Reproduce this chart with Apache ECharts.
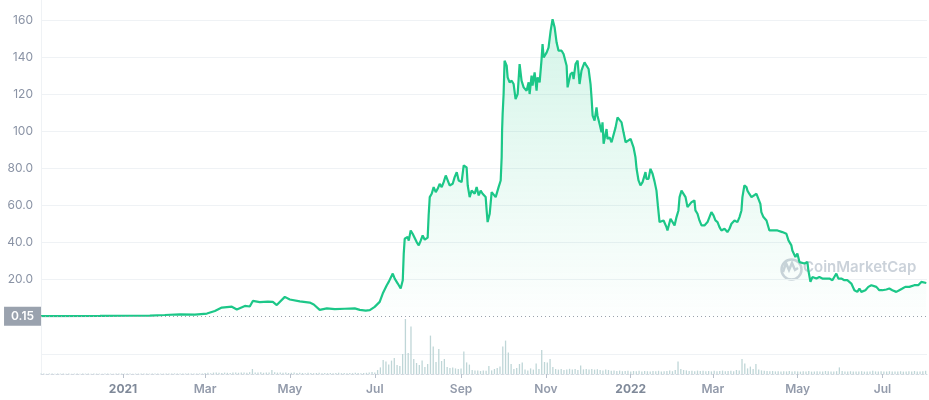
<!DOCTYPE html>
<html><head><meta charset="utf-8">
<script src="https://cdn.jsdelivr.net/npm/echarts@6/dist/echarts.min.js"></script>
<style>html,body{margin:0;padding:0;background:#fff}#c{width:929px;height:400px}</style>
</head><body><div id="c"></div>
<script>
// Days counted from 2020-11-03
const startDate = '2020-11-03';
const priceDays = [0,13.6,42.4,63.9,78.3,89,99.9,110.6,119.3,125,130,137.2,140.8,146.6,150.1,152.3,157.3,163.1,166.7,169.5,175.3,178.9,186.1,193.2,196.1,200.4,205.5,211.2,218.4,225.6,229.2,233.5,236.4,239.9,243.5,245.7,248.6,250,251.4,252.9,254.3,256.5,258.6,260.1,260.8,261.5,263.6,264.4,265.8,267.2,270.1,271.6,273,274.4,275.9,278,278.7,279.5,280.9,282.3,283.8,285.2,286.6,288.1,289.5,291,291.7,293.8,296,297.4,298.9,300.3,302.4,303.9,306,306.8,308.2,309.6,311.8,313.2,314.7,316.1,317.5,319.7,320.4,321.1,322.6,324,324.7,326.9,328.3,329,330.5,331.2,331.5,331.9,332.6,333.3,334.8,335.5,336.9,338.4,339.8,341.2,342.7,344.1,345.5,347,349.1,350.6,351.3,352.7,353.4,354.9,356.3,357,358.5,359.9,360.6,361.4,363.5,364.9,366.4,367.8,369.3,370.7,372.1,374.3,375.7,377.9,378.6,380.7,382.2,382.9,384.3,385.8,387.2,388.6,389.4,390.8,392.2,393.7,395.1,395.8,396.6,398,399.4,400.1,401.6,403,403.7,404.5,406.6,407.3,408.8,410.2,411.6,413.1,414.5,415.9,417.4,418.8,420.3,421.7,423.9,425.3,426,427.4,428.2,429.6,431,432.5,434.6,435.3,436.8,438.2,439.7,441.1,442.5,443.5,444.7,446.1,447.6,449.7,450.4,452.6,454,455.5,456.9,458.3,459.1,460.5,461.9,463.4,464.8,466.2,467.7,468.4,469.8,470.5,472,473.4,474.9,475.6,477,479.2,480.6,482,483.5,484.9,486.4,487.8,489.2,491.4,493.5,495,496.4,498.6,500.7,502.2,503.6,504.3,505.7,507.2,507.9,509.3,510.8,512.2,514.4,515.8,517.2,517.9,519.4,521.6,522.3,523.7,525.1,527.3,529.5,530.9,533,535.9,537.4,539.5,540.2,542.4,543.8,545.3,546.7,548.9,551,551.7,553.2,554.6,557.5,559.6,561.8,564.7,566.8,569,571.8,573.3,575.4,577.6,579.7,582.6,584.8,586.9,588.4,589.8,592.7,594.8,597,598.4,600.6,602.7,604.9,607.8,609.9,612.1,614.9,617.1,619.3,621.4,622.8,624.3,625.7,627.9,629.3,630.7,632.9,634.3,636.5];
const prices = [0.15,0.2,0.3,0.4,0.5,0.8,1.2,1.0,1.6,3.0,4.8,5.3,3.8,5.7,5.4,8.4,7.8,8.0,7.9,6.2,10.6,9.2,8.2,7.5,6.5,3.6,4.4,4.0,4.2,4.4,3.6,3.2,3.4,5.2,7.9,12.4,16.9,18.7,17.8,23.2,20.5,17.8,15.1,19.6,34,42,43,41,46.5,44.7,40.2,38.4,41,43.8,41.5,42.6,54.6,64.5,66.3,69.9,67.2,69,71.7,69.9,72.6,76.2,77.1,70.8,71.7,75.3,78,73.5,72.6,81.6,80.6,70.8,64.5,68,66.3,69.9,65.4,68,66.3,64.5,57.3,51,55.5,67.2,68,64.5,65.4,69.9,73.5,86,100.4,109.4,120.2,138.2,135.5,129.2,126.5,127.4,125.6,117.5,120.2,136.4,127.4,123.8,122,126.5,120.2,130.1,124.7,131.9,122,129.2,126.5,139.1,147.2,140,142.6,145.3,154.3,160.6,156.1,148,143.6,143.6,141.8,135.5,123.8,131,131.9,128.3,136.4,138.2,125.6,132.8,134.6,137.3,135.5,133.7,125.6,118.4,108.5,105.8,113,108.5,104,99.5,104.9,93.3,101.3,96,96.8,94.1,95,102.2,107.6,108.5,104.9,99.5,94.1,95,96,95,91.4,86,79.8,73.5,70.8,72.6,78,74.4,74.4,79.8,77.1,73,68,60,51,50.1,51.9,48.3,46.5,52.8,51.9,49.2,53.7,57.3,64.5,68,67.2,64.5,59.1,59.1,61.8,62.7,62.7,57.3,55.5,51.9,49.2,50.1,49.2,51,50.1,56.4,54.6,51.9,51,48.3,46.5,47.4,45.6,47.4,50.1,51.9,51,53.7,57.3,64.5,70.8,69.9,68,66.2,64.5,65.4,66.3,65.4,60.9,56.4,53.7,51.9,51,46.5,47.4,46.5,46.5,45.6,45.6,44.7,41.1,38.4,35.7,32.1,34,29.4,30.3,28.6,29.4,25,18.7,21.3,20.5,21.3,20.5,20.5,20.5,19.6,23.2,20.5,20.5,19.6,19.6,17.8,14.2,13.3,15.1,13.3,14.2,16,16.9,17.8,16,14.2,14.2,14.6,15.1,14.2,13.3,14.2,15.1,16,16.9,16,16.9,16.9,17.8,16.9,18.7,17.8,18.1];
const volumeStepDays = 2;
const volumes = [2,2,1,2,2,1,2,2,2,1,2,1,2,2,1,2,2,2,1,2,2,2,1,2,2,2,1,2,2,2,
2,2,2,1,2,2,3,2,2,2,2,3,2,2,2,3,2,2,3,2,3,2,3,3,2,3,3,3,2,
5,6,4,7,8,6,5,7,6,5,8,7,6,8,7,6,9,
25,8,7,9,6,8,7,20,
9,7,8,6,7,5,6,7,5,6,5,4,6,5,4,5,6,4,5,4,5,4,5,6,4,5,4,5,4,6,5,4,5,6,8,
10,8,20,33,70,62,47,67,80,45,40,100,275,105,237,75,55,45,68,35,50,192,137,60,125,65,75,35,30,32,28,25,28,112,58,47,20,18,17,15,18,16,40,18,25,30,37,137,167,108,50,25,30,50,58,22,18,28,22,53,25,120,60,57,75,35,25,
22,25,20,23,26,22,25,20,42,23,25,22,
25,22,24,20,18,22,20,16,18,15,17,14,15,16,13,15,14,16,13,15,14,13,15,14,16,13,14,15,17,14,
20,62,25,20,
18,15,16,14,17,15,16,14,15,13,16,14,15,17,14,15,16,14,20,18,
75,53,28,37,25,50,22,
18,16,15,14,15,13,14,12,14,13,15,12,14,13,12,14,13,15,12,13,14,12,13,15,14,13,12,14,33,15,13,12,14,13,12,13,14,12,13,12,16,13,12,14,13,12,14,13,12,13,14,12,13,14,12,15,13,12,14,16];
const tickDays = [59,118,179,240,302,363,424,483,544,605];
const tickLabels = ['2021','Mar','May','Jul','Sep','Nov','2022','Mar','May','Jul'];
const basePrice = 0.15;
const watermarkText = 'CoinMarketCap';

const chart = echarts.init(document.getElementById('c'), null, {renderer:'canvas'});
const FONT = 'Inter, "Noto Sans", sans-serif';
const gridLine = '#eff2f5';
const priceSplitColors = ['rgba(0,0,0,0)', gridLine, gridLine, gridLine, gridLine, gridLine, gridLine, gridLine, gridLine, 'rgba(0,0,0,0)'];

chart.setOption({
  animation: false,
  textStyle: {fontFamily: FONT},
  grid: [
    {left: 41, right: 2, top: -2, height: 318.5},
    {left: 41, right: 2, top: 318, height: 56}
  ],
  xAxis: [
    {type: 'value', gridIndex: 0, min: 0, max: 637, show: false},
    {type: 'value', gridIndex: 1, min: 0, max: 637,
      axisLine: {show: true, lineStyle: {color: '#d3d9e1', type: [3, 2]}},
      axisTick: {show: true, customValues: tickDays, length: 4, lineStyle: {color: '#b9c0cb'}},
      axisLabel: {customValues: tickDays, margin: 9, color: '#939bab', fontSize: 12, fontWeight: 600, fontFamily: FONT,
        formatter: function (v) {
          const i = tickDays.indexOf(Math.round(v));
          if (i < 0) return '';
          const l = tickLabels[i];
          return /^\d{4}$/.test(l) ? '{yr|' + l + '}' : l;
        },
        rich: {yr: {color: '#7f8999', fontSize: 12, fontWeight: 700, fontFamily: FONT}}
      },
      splitLine: {show: false}
    }
  ],
  yAxis: [
    {type: 'value', gridIndex: 0, min: 0, max: 171, interval: 20,
      axisLine: {show: true, lineStyle: {color: gridLine}},
      axisTick: {show: false},
      axisLabel: {margin: 8, color: '#8a93a5', fontSize: 12, fontFamily: FONT,
        formatter: function (v) { if (v === 0 || v > 165) return ''; return v >= 100 ? String(v) : v.toFixed(1); }},
      splitLine: {show: true, lineStyle: {color: priceSplitColors, width: 1}}
    },
    {type: 'value', gridIndex: 1, min: 0, max: 280, interval: 100,
      axisLine: {show: true, lineStyle: {color: gridLine}},
      axisTick: {show: false}, axisLabel: {show: false},
      splitLine: {show: true, lineStyle: {color: ['rgba(0,0,0,0)', gridLine, 'rgba(0,0,0,0)', 'rgba(0,0,0,0)']}}
    }
  ],
  series: [
    {type: 'bar', xAxisIndex: 1, yAxisIndex: 1, barWidth: 1.3,
      data: volumes.map((v, i) => [i * volumeStepDays, v]),
      itemStyle: {color: '#bfd6d7'}, silent: true},
    {type: 'line', xAxisIndex: 0, yAxisIndex: 0, showSymbol: false, symbol: 'none',
      data: priceDays.map((d, i) => [d, prices[i]]),
      lineStyle: {color: '#1cc788', width: 2.2},
      areaStyle: {color: new echarts.graphic.LinearGradient(0, 0, 0, 1, [
        {offset: 0, color: 'rgba(22,199,132,0.26)'},
        {offset: 1, color: 'rgba(22,199,132,0.01)'}
      ])},
      markLine: {silent: true, symbol: 'none', animation: false,
        data: [{yAxis: basePrice}],
        lineStyle: {color: '#9aa1ad', type: [1, 3], width: 1},
        label: {show: true, position: 'start', distance: 0, formatter: String(basePrice),
          backgroundColor: '#9aa2ae', color: '#fff', fontSize: 12, fontWeight: 600, fontFamily: FONT,
          padding: [4, 7, 3, 7]}
      }
    }
  ],
  graphic: [
    {type: 'circle', left: 779, top: 257, shape: {r: 10}, style: {fill: 'none', stroke: '#cdd3db', lineWidth: 2.5}, silent: true},
    {type: 'polyline', shape: {points: [[783, 272], [786, 263], [789, 270], [792, 263], [795, 270], [798, 268]]}, style: {fill: 'none', stroke: '#cdd3db', lineWidth: 2.5}, silent: true},
    {type: 'text', left: 803, top: 260, style: {text: watermarkText, fill: '#cbd2da', font: '600 15px ' + FONT}, silent: true}
  ]
});
</script>
</body></html>
